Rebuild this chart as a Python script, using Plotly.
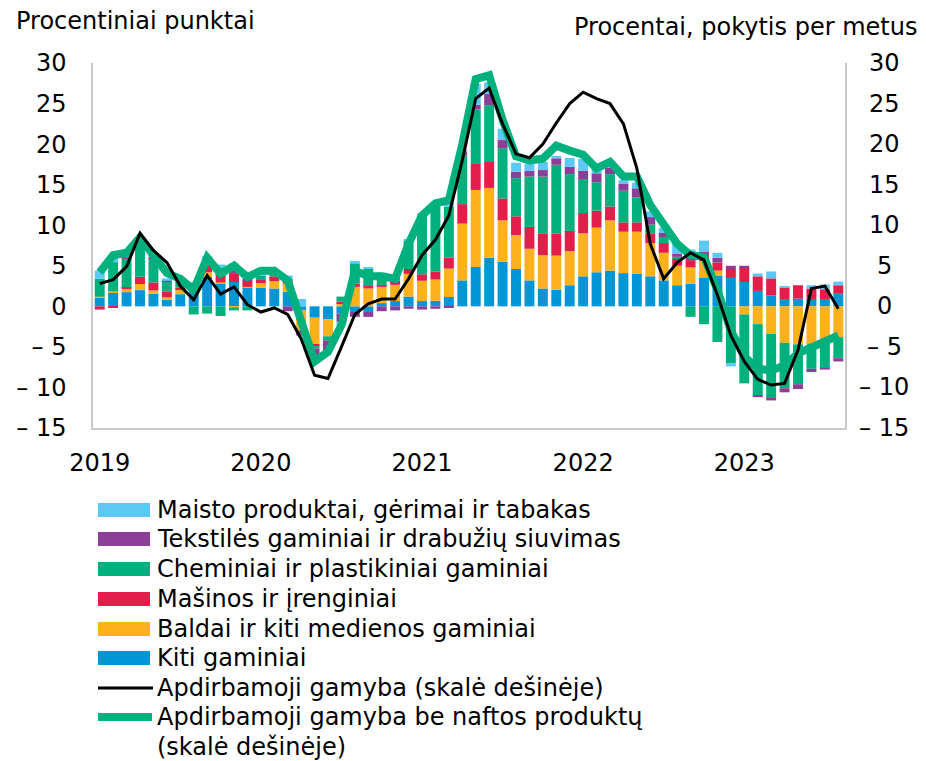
import plotly.graph_objects as go

# months Jan 2019 .. Aug 2023
months = [f"{y}-{m:02d}" for y in range(2019, 2024) for m in range(1, 13)][:56]
year_ticks = ["2019-01", "2020-01", "2021-01", "2022-01", "2023-01"]
year_labels = ["2019", "2020", "2021", "2022", "2023"]

y_ticks = [30, 25, 20, 15, 10, 5, 0, -5, -10, -15]
y_labels = ["30", "25", "20", "15", "10", "5", "0", "– 5", "– 10", "– 15"]

kiti = [1.05, 1.65, 1.75, 2.0, 1.55, 0.8, 1.5, 2.0, 3.6, 2.8, 3.0, 2.3, 2.3, 2.2, 1.8,
        -0.5, -1.4, -1.6, -0.9, -0.7, -0.7, 0.4, 0.65, 1.2, 0.65, 0.7, 1.15, 3.2, 4.85,
        6.0, 5.5, 4.6, 3.2, 2.2, 2.05, 2.6, 3.7, 4.2, 4.4, 4.1, 4.0, 3.7, 3.2, 2.6, 2.8,
        3.5, 3.8, 3.5, 3.0, 1.9, 1.35, 0.8, 0.95, 0.8, 0.8, 1.55]
baldai = [0.15, 0.2, 0.4, 0.75, 0.4, 0.3, 0.5, 0.3, 0.6, 0.15, -0.15, 0.1, 0.55, 0.9, 1.0,
          -2.5, -3.3, -2.1, 0.4, 2.4, 2.2, 2.0, 2.0, 2.8, 2.5, 2.6, 3.5, 7.0, 9.5,
          8.6, 5.1, 4.2, 3.9, 4.1, 4.2, 4.2, 5.3, 5.5, 6.2, 5.1, 5.2, 4.1, 3.4, 2.4, 2.0,
          2.1, 0.6, 0.0, -1.0, -2.2, -3.4, -4.5, -4.7, -4.7, -4.0, -3.8]
masinos = [-0.4, -0.1, 0.2, 0.9, 1.0, 0.75, 0.3, 0.4, 0.8, 1.0, 1.1, 0.8, 0.4, 0.6, 0.4,
           0.0, -0.2, 0.0, 0.2, 0.4, 0.3, 0.25, 0.5, 0.6, 0.8, 1.0, 1.35, 2.4, 3.2,
           3.2, 2.7, 2.3, 2.7, 2.7, 2.7, 2.5, 2.5, 2.1, 1.7, 1.15, 1.15, 1.2, 1.2, 0.9, 0.9,
           0.6, 1.0, 1.1, 1.8, 1.8, 2.1, 1.55, 1.65, 1.4, 1.3, 1.05]
cheminiai = [2.2, 3.6, 3.5, 4.2, 2.9, 1.15, 1.0, -1.0, -0.9, -1.2, -0.35, -0.5, 0.5, 0.3, 0.2,
             0.0, -0.3, -0.5, 0.6, 2.5, 2.2, 1.3, 0.4, 3.5, 7.3, 8.2, 6.3, 6.0, 6.7,
             7.0, 6.2, 4.7, 6.2, 7.0, 8.5, 7.0, 4.2, 3.5, 4.0, 3.9, 3.1, 1.1, 0.75, 0.2, -1.3,
             -2.2, -4.4, -7.0, -8.5, -8.8, -7.9, -5.6, -4.9, -3.0, -3.5, -2.6]
tekstiles = [0.0, 0.0, 0.2, 0.0, 0.2, 0.15, 0.0, 0.0, 0.2, 0.3, 0.3, 0.2, 0.0, 0.0, -0.6,
             -0.6, -1.0, -1.3, -1.0, -0.6, -0.6, -0.6, -0.5, -0.3, -0.4, -0.3, -0.2, 0.4, 0.6,
             1.4, 1.0, 0.8, 0.7, 0.8, 0.8, 0.9, 1.0, 1.1, 0.8, 0.9, 1.1, 0.9, 0.55, 0.35, 0.4,
             0.5, 0.6, 0.4, 0.2, -0.2, -0.3, -0.5, -0.6, -0.4, -0.3, -0.4]
maisto = [1.0, 0.5, 0.4, 0.3, 0.3, 0.3, 0.0, 0.3, 1.0, 0.9, 0.9, 0.6, 0.4, 0.5, 0.4,
          0.9, 0.0, 0.0, -0.4, 0.3, 0.1, 0.2, 0.1, 0.2, 0.2, 0.1, 0.5, 0.3, 2.6,
          1.4, 1.4, 1.1, 0.9, 1.0, 0.3, 1.1, 1.5, 0.8, 0.3, 0.4, 0.7, 0.7, 0.6, 1.3, 0.9,
          1.4, 0.6, -0.4, 0.0, 0.35, 0.85, 0.1, 0.0, 0.4, 0.6, 0.45]

apdirbamoji = [2.8, 3.3, 4.9, 9.0, 6.9, 5.4, 2.5, 0.8, 3.8, 1.5, 2.4, 0.2, -0.7, -0.2, -1.0,
               -4.0, -8.5, -8.9, -5.0, -1.0, 0.3, 0.9, 0.9, 3.4, 6.3, 8.2, 11.2, 18.0, 25.6,
               26.9, 22.5, 18.8, 18.3, 20.0, 22.6, 25.0, 26.4, 25.6, 25.0, 22.5, 17.0, 7.7, 3.4,
               5.4, 6.6, 5.7, 1.4, -3.6, -6.8, -9.0, -9.7, -9.5, -5.4, 2.2, 2.5, -0.3]
be_naftos = [4.2, 6.3, 6.6, 8.5, 6.3, 4.1, 3.4, 2.0, 6.0, 4.0, 5.0, 3.6, 4.4, 4.4, 3.2,
             -1.5, -6.8, -5.6, -2.3, 4.4, 3.7, 3.7, 3.4, 7.7, 11.2, 12.7, 13.1, 20.0, 28.0,
             28.5, 23.0, 18.5, 18.0, 18.2, 19.8, 19.2, 18.7, 17.0, 17.8, 16.0, 16.0, 12.5, 10.0,
             7.7, 6.3, 6.1, 2.0, -3.0, -6.2, -7.7, -7.9, -7.3, -5.8, -5.0, -4.4, -3.6]

bar_series = [
    ("Kiti gaminiai", kiti, "#0096D6"),
    ("Baldai ir kiti medienos gaminiai", baldai, "#FDB11D"),
    ("Mašinos ir įrenginiai", masinos, "#E31E4A"),
    ("Cheminiai ir plastikiniai gaminiai", cheminiai, "#00B07D"),
    ("Tekstilės gaminiai ir drabužių siuvimas", tekstiles, "#8B3F96"),
    ("Maisto produktai, gėrimai ir tabakas", maisto, "#5BC8F5"),
]

FONT = "DejaVu Sans"
FS = 24
W, H = 926, 761
L, R, T, B = 93, 81, 63, 333
PW, PH = W - L - R, H - T - B


def px(x):
    return (x - L) / PW


def py(y):
    return (H - B - y) / PH


fig = go.Figure()
for name, vals, col in bar_series:
    fig.add_trace(go.Bar(x=months, y=vals, name=name, marker_color=col,
                         marker_line_width=0))

fig.add_trace(go.Scatter(x=months, y=be_naftos, mode="lines", yaxis="y2",
                         line=dict(color="#00B07D", width=8)))
fig.add_trace(go.Scatter(x=months, y=apdirbamoji, mode="lines", yaxis="y2",
                         line=dict(color="#000000", width=3)))

annotations = [
    dict(text="Procentiniai punktai", x=px(14), y=py(21), xanchor="left"),
    dict(text="Procentai, pokytis per metus", x=px(919), y=py(27), xanchor="right"),
]
for v, t in zip(y_ticks, y_labels):
    annotations.append(dict(text=t, x=px(884), y=v, yref="y2", xanchor="center"))

# legend drawn by hand (wide swatches)
shapes = []
legend_rows = [510, 539, 569, 599, 629, 658]
for (name, _, col), ry in zip(reversed(bar_series), legend_rows):
    shapes.append(dict(type="rect", xref="paper", yref="paper", x0=px(98), x1=px(150),
                       y0=py(ry + 7), y1=py(ry - 7), fillcolor=col, line_width=0))
    annotations.append(dict(text=name, x=px(155), y=py(ry), xanchor="left"))
shapes.append(dict(type="line", xref="paper", yref="paper", x0=px(98), x1=px(153),
                   y0=py(688), y1=py(688), line=dict(color="#000000", width=3)))
annotations.append(dict(text="Apdirbamoji gamyba (skalė dešinėje)", x=px(155), y=py(688), xanchor="left"))
shapes.append(dict(type="line", xref="paper", yref="paper", x0=px(98), x1=px(152),
                   y0=py(717), y1=py(717), line=dict(color="#00B07D", width=8)))
annotations.append(dict(text="Apdirbamoji gamyba be naftos produktų", x=px(155), y=py(717), xanchor="left"))
annotations.append(dict(text="(skalė dešinėje)", x=px(155), y=py(747), xanchor="left"))

for a in annotations:
    a.setdefault("xref", "paper")
    a.setdefault("yref", "paper")
    a.update(showarrow=False, yanchor="middle", font=dict(family=FONT, size=FS, color="#000000"))

fig.update_layout(
    width=W, height=H,
    margin=dict(l=L, r=R, t=T, b=B, autoexpand=False),
    barmode="relative", bargap=0.26,
    plot_bgcolor="white", paper_bgcolor="white",
    showlegend=False, hovermode=False,
    font=dict(family=FONT, size=FS, color="#000000"),
    xaxis=dict(type="category", tickvals=year_ticks, ticktext=year_labels,
               showline=True, linecolor="#C8C8C8", linewidth=1.5, showgrid=False,
               ticks="", ticklabelstandoff=12, automargin=False),
    yaxis=dict(range=[-15, 30], tickvals=y_ticks, ticktext=y_labels, showgrid=False,
               zeroline=False, showline=True, linecolor="#C8C8C8", linewidth=1.5,
               ticks="", ticklabelstandoff=20, automargin=False),
    yaxis2=dict(range=[-15, 30], overlaying="y", side="right", showgrid=False,
                zeroline=False, showline=True, linecolor="#C8C8C8", linewidth=1.5,
                showticklabels=False, automargin=False),
    annotations=annotations,
    shapes=shapes,
)

# page has a default body margin; drop it so the figure sits at the top-left corner
fig.write_html("out.html", config={"displayModeBar": False},
               post_script="document.body.style.margin='0';")
